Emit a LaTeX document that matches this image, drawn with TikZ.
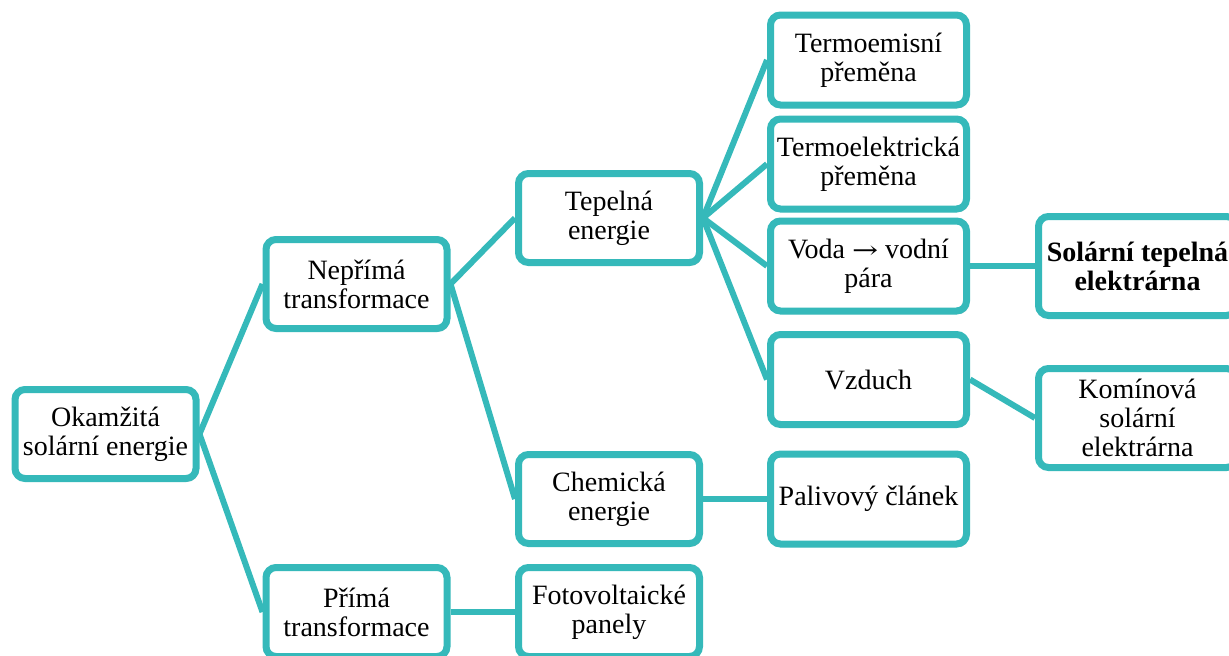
\documentclass[tikz,border=0pt]{standalone}
\usepackage{fontspec}
\setmainfont{Liberation Serif}
\newfontfamily\arrfont{DejaVu Serif}
\usetikzlibrary{shadows,backgrounds}
\definecolor{teal1}{RGB}{53,185,186}
\begin{document}
\begin{tikzpicture}[x=1pt,y=-1pt,
  box/.style={draw=teal1, line width=7pt, rounded corners=10pt, fill=white,
    align=center, inner sep=0pt,
    font=\fontsize{28}{29}\selectfont,
    drop shadow={shadow xshift=2pt, shadow yshift=-3pt, opacity=0.25, fill=black}},
  bw/.style={minimum width=181pt, minimum height=89pt},
  bw3/.style={minimum width=196pt, minimum height=90pt},
  bw4/.style={minimum width=198pt, minimum height=99pt},
  conn/.style={draw=teal1, line width=6pt}]
\useasboundingbox (0,0) rectangle (1229,656);
\clip (0,0) rectangle (1229,656);
% nodes
\node[box,bw] (ok)  at (105.5,434) {Okamžitá\\solární energie};
\node[box,bw] (nep) at (356.5,284) {Nepřímá\\transformace};
\node[box,bw] (pri) at (356.5,612) {Přímá\\transformace};
\node[box,bw] (tep) at (609,218) {Tepelná\\energie};
\node[box,bw] (che) at (609,499) {Chemická\\energie};
\node[box,bw] (fot) at (609,612) {Fotovoltaické\\panely};
\node[box,bw3] (te1) at (868.5,60) {Termoemisní\\přeměna};
\node[box,bw3] (te2) at (868.5,164) {Termoelektrická\\přeměna};
\node[box,bw3] (voda) at (868.5,266) {Voda {\arrfont\fontsize{24}{29}\selectfont\scalebox{1.3}[1]{→}} vodní\\pára};
\node[box,bw3] (vz) at (868.5,379.5) {Vzduch};
\node[box,bw3] (pal) at (868.5,499) {Palivový článek};
\node[box,bw4] (sol) at (1137.5,266) {\bfseries Solární tepelná\\\bfseries elektrárna};
\node[box,bw4] (kom) at (1137.5,418) {Komínová\\solární\\elektrárna};
% connectors
\begin{scope}[on background layer]
\draw[conn] (ok.east) -- (nep.west);
\draw[conn] (ok.east) -- (pri.west);
\draw[conn] (nep.east) -- (tep.west);
\draw[conn] (nep.east) -- (che.west);
\draw[conn] (pri.east) -- (fot.west);
\draw[conn] (tep.east) -- (te1.west);
\draw[conn] (tep.east) -- (te2.west);
\draw[conn] (tep.east) -- (voda.west);
\draw[conn] (tep.east) -- (vz.west);
\draw[conn] (che.east) -- (pal.west);
\draw[conn] (voda.east) -- (sol.west);
\draw[conn] (vz.east) -- (kom.west);
\end{scope}
\end{tikzpicture}
\end{document}
